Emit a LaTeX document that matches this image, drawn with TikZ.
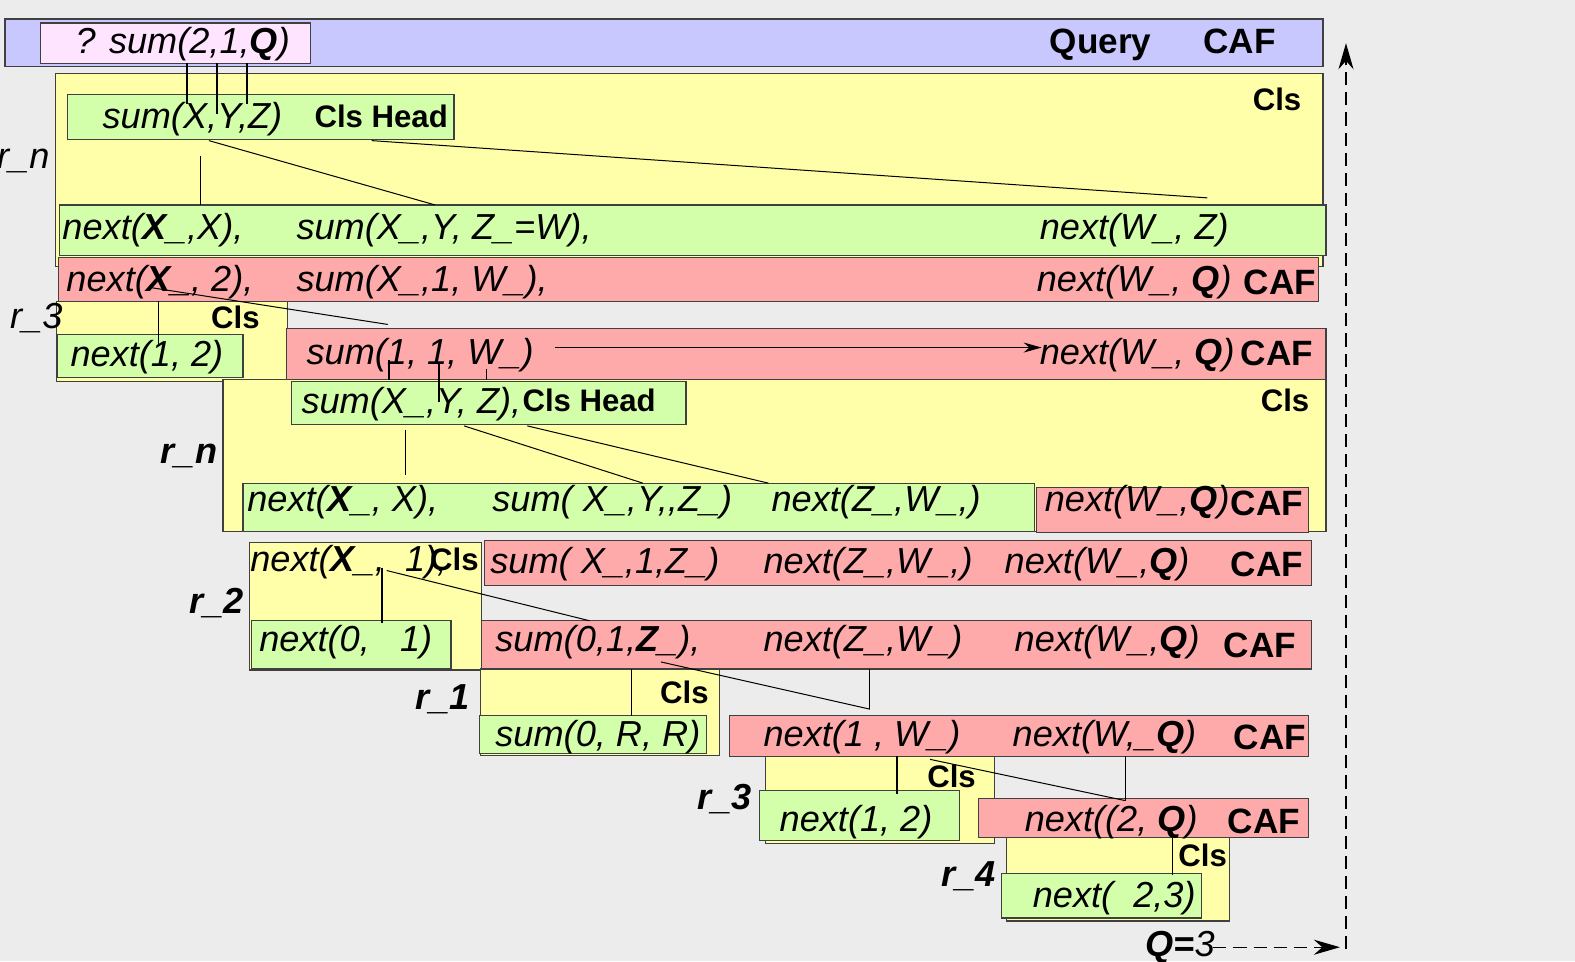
\documentclass[tikz,border=0pt]{standalone}
\usepackage{fontspec}
\setmainfont{Liberation Sans}
\usetikzlibrary{arrows.meta}
\definecolor{bgc}{HTML}{ECECEC}
\definecolor{bluec}{HTML}{C8C8FF}
\definecolor{pinkc}{HTML}{FFE4FF}
\definecolor{yelc}{HTML}{FFFFAA}
\definecolor{grnc}{HTML}{D4FFAA}
\definecolor{redc}{HTML}{FFAAAA}
\definecolor{edgec}{HTML}{404040}
\tikzset{
 boxbase/.style={draw=edgec, line width=1.2pt, anchor=north west, inner sep=0pt, outer sep=0pt, rectangle},
 bluebox/.style={boxbase, fill=bluec},
 pinkbox/.style={boxbase, fill=pinkc},
 yelbox/.style={boxbase, fill=yelc},
 grnbox/.style={boxbase, fill=grnc},
 redbox/.style={boxbase, fill=redc},
 txt/.style={inner sep=0pt, anchor=base west, font=\fontsize{36}{40}\selectfont\itshape},
 bitxt/.style={inner sep=0pt, anchor=base west, font=\fontsize{36}{40}\selectfont\bfseries\itshape},
 btxt/.style={inner sep=0pt, anchor=base west, font=\fontsize{35}{40}\selectfont\bfseries},
 stxt/.style={inner sep=0pt, anchor=base west, font=\fontsize{31}{36}\selectfont\bfseries},
 lnthin/.style={line width=1pt, black},
 lnthick/.style={line width=2pt, black},
 dashln/.style={line width=1.2pt, black, dash pattern=on 13pt off 7pt},
 tip/.style={-{Stealth[length=18pt,width=10pt]}},
 bigtip/.style={-{Stealth[length=26pt,width=15pt]}},
}
\newcommand\bx[6]{\node[#1, minimum width={(#5-#3)*1pt}, minimum height={(#6-#4)*1pt}] (#2) at (#3,#4) {};}
\begin{document}
\begin{tikzpicture}[x=1pt,y=-1pt]
\fill[bgc] (0,0) rectangle (1568,957);
\useasboundingbox (0,0) rectangle (1568,957);
% boxes
\bx{bluebox}{B1}{5}{19}{1317}{66}
\bx{pinkbox}{P1}{40}{23}{309}{63}
\bx{yelbox}{Y1}{55}{73}{1317}{265}
\bx{grnbox}{G1}{67}{94}{452}{139}
\bx{grnbox}{G2}{59}{204}{1320}{254}
\bx{redbox}{R1}{58}{256}{1313}{300}
\bx{yelbox}{Y2}{56}{300}{286}{380}
\bx{grnbox}{G3}{57}{333}{242}{376}
\bx{redbox}{R2}{285}{327}{1320}{378}
\bx{yelbox}{Y3}{222}{378}{1320}{529}
\bx{grnbox}{G4}{290}{380}{683}{423}
\bx{grnbox}{G5}{242}{481}{1030}{529}
\bx{redbox}{R3}{1032}{485}{1303}{530}
\bx{yelbox}{Y4}{248}{540}{479}{667}
\bx{grnbox}{G6}{250}{618}{449}{666}
\bx{redbox}{R4}{482}{538}{1306}{583}
\bx{redbox}{R5}{479}{618}{1306}{666}
\bx{yelbox}{Y5}{478}{666}{716}{752}
\bx{grnbox}{G7}{477}{712}{703}{750}
\bx{redbox}{R6}{726}{712}{1303}{753}
\bx{yelbox}{Y6}{762}{753}{990}{840}
\bx{grnbox}{G8}{756}{787}{955}{837}
\bx{redbox}{R7}{974}{795}{1303}{834}
\bx{yelbox}{Y7}{1002}{834}{1224}{917}
\bx{grnbox}{G9}{997}{870}{1196}{914}
% coordinates
\coordinate (a1) at (186,63); \coordinate (a1e) at (186,104);
\coordinate (a2) at (216,63); \coordinate (a2e) at (216,113);
\coordinate (a3) at (246,63); \coordinate (a3e) at (246,104);
\coordinate (b1) at (200,155); \coordinate (b1e) at (200,204);
\coordinate (b2) at (208,140); \coordinate (b2e) at (433,204);
\coordinate (b3) at (370,140); \coordinate (b3e) at (1202,197);
\coordinate (c1) at (148,286); \coordinate (c1e) at (386,323);
\coordinate (c2) at (158,300); \coordinate (c2e) at (158,342);
\coordinate (d1) at (387,358); \coordinate (d1e) at (387,378);
\coordinate (d2) at (437,362); \coordinate (d2e) at (437,400);
\coordinate (d3) at (484,367); \coordinate (d3e) at (484,378);
\coordinate (d4) at (553,346); \coordinate (d4e) at (1037,346);
\coordinate (e1) at (404,428); \coordinate (e1e) at (404,473);
\coordinate (e2) at (462,424); \coordinate (e2e) at (640,481);
\coordinate (e3) at (525,424); \coordinate (e3e) at (765,481);
\coordinate (f1) at (380,565); \coordinate (f1e) at (380,620);
\coordinate (f2) at (385,568); \coordinate (f2e) at (587,618);
\coordinate (g1) at (629,666); \coordinate (g1e) at (629,713);
\coordinate (g2) at (658,659); \coordinate (g2e) at (866,706);
\coordinate (g3) at (866,666);
\coordinate (h1) at (893,753); \coordinate (h1e) at (893,790);
\coordinate (h2) at (926,756); \coordinate (h2e) at (1120,797);
\coordinate (h3) at (1120,753);
\coordinate (i1) at (1167,834); \coordinate (i1e) at (1167,871);
\coordinate (v0) at (1340,945); \coordinate (v1) at (1340,43);
\coordinate (w0) at (1208,943); \coordinate (w1) at (1334,943);
% connectors
\draw[lnthick] (a1) -- (a1e);
\draw[lnthick] (a2) -- (a2e);
\draw[lnthick] (a3) -- (a3e);
\draw[lnthin] (b1) -- (b1e);
\draw[lnthin] (b2) -- (b2e);
\draw[lnthin] (b3) -- (b3e);
\draw[lnthin] (c1) -- (c1e);
\draw[lnthin] (c2) -- (c2e);
\draw[lnthick] (d1) -- (d1e);
\draw[lnthick] (d2) -- (d2e);
\draw[lnthin] (d3) -- (d3e);
\draw[lnthin, tip] (d4) -- (d4e);
\draw[lnthin] (e1) -- (e1e);
\draw[lnthin] (e2) -- (e2e);
\draw[lnthin] (e3) -- (e3e);
\draw[lnthick] (f1) -- (f1e);
\draw[lnthin] (f2) -- (f2e);
\draw[lnthin] (g1) -- (g1e);
\draw[lnthin] (g2) -- (g2e);
\draw[lnthin] (g3) -- (g2e);
\draw[lnthin] (h1) -- (h1e);
\draw[lnthin] (h2) -- (h2e);
\draw[lnthin] (h3) -- (h2e);
\draw[lnthin] (i1) -- (i1e);
\draw[dashln, bigtip] (v0) -- (v1);
\draw[dashln, bigtip] (w0) -- (w1);
% texts
\node[txt] (t1) at (75,53) {? sum(2,1,\textbf{Q})};
\node[btxt] (t2) at (1045,53) {Query};
\node[btxt] (t3) at (1198,53) {CAF};
\node[stxt] (t4) at (1247,110) {Cls};
\node[txt] (t5) at (102,128) {sum(X,Y,Z)};
\node[stxt] (t6) at (313,127) {Cls Head};
\node[txt] (t7) at (-3,168) {r\_n};
\node[txt] (t8) at (62,238) {next(\textbf{X}\_,X),};
\node[txt] (t9) at (295,238) {sum(X\_,Y, Z\_=W),};
\node[txt] (t10) at (1035,238) {next(W\_, Z)};
\node[txt] (t11) at (66,290) {next(\textbf{X}\_, 2),};
\node[txt] (t12) at (295,290) {sum(X\_,1, W\_),};
\node[txt] (t13) at (1032,290) {next(W\_, \textbf{Q})};
\node[btxt] (t14) at (1238,293) {CAF};
\node[txt] (t15) at (10,327) {r\_3};
\node[stxt] (t16) at (210,327) {Cls};
\node[txt] (t17) at (70,365) {next(1, 2)};
\node[txt] (t18) at (305,363) {sum(1, 1, W\_)};
\node[txt] (t19) at (1035,363) {next(W\_, \textbf{Q})};
\node[btxt] (t20) at (1235,364) {CAF};
\node[stxt] (t21) at (1255,410) {Cls};
\node[txt] (t22) at (300,412) {sum(X\_,Y, Z),};
\node[stxt] (t23) at (520,410) {Cls Head};
\node[bitxt] (t24) at (160,461) {r\_n};
\node[txt] (t25) at (246,509) {next(\textbf{X}\_, X),};
\node[txt] (t26) at (490,509) {sum( X\_,Y,{},Z\_)};
\node[txt] (t27) at (768,509) {next(Z\_,W\_,)};
\node[txt] (t28) at (1040,509) {next(W\_,\textbf{Q})};
\node[btxt] (t29) at (1225,513) {CAF};
\node[txt] (t30) at (249,569) {next(\textbf{X}\_,\ \ 1),};
\node[stxt] (t31) at (428,568) {Cls};
\node[txt] (t32) at (488,571) {sum( X\_,1,Z\_)};
\node[txt] (t33) at (760,571) {next(Z\_,W\_,)};
\node[txt] (t34) at (1000,571) {next(W\_,\textbf{Q})};
\node[btxt] (t35) at (1225,574) {CAF};
\node[bitxt] (t36) at (188,611) {r\_2};
\node[txt] (t37) at (258,649) {next(0,\ \ \ 1)};
\node[txt] (t38) at (493,649) {sum(0,1,\textbf{Z}\_),};
\node[txt] (t39) at (760,649) {next(Z\_,W\_)};
\node[txt] (t40) at (1010,649) {next(W\_,\textbf{Q})};
\node[btxt] (t41) at (1218,655) {CAF};
\node[bitxt] (t42) at (413,706) {r\_1};
\node[stxt] (t43) at (657,700) {Cls};
\node[txt] (t44) at (493,743) {sum(0, R, R)};
\node[txt] (t45) at (760,743) {next(1 , W\_)};
\node[txt] (t46) at (1008,743) {next(W,\_\textbf{Q})};
\node[btxt] (t47) at (1228,746) {CAF};
\node[bitxt] (t48) at (694,806) {r\_3};
\node[stxt] (t49) at (923,784) {Cls};
\node[txt] (t50) at (776,828) {next(1, 2)};
\node[txt] (t51) at (1020,828) {next((2, \textbf{Q})};
\node[btxt] (t52) at (1222,830) {CAF};
\node[bitxt] (t53) at (937,883) {r\_4};
\node[stxt] (t54) at (1173,863) {Cls};
\node[txt] (t55) at (1028,903) {next(\ \ 2,3)};
\node[txt] (t56) at (1140,952) {\textbf{Q=}3};
\end{tikzpicture}
\end{document}
